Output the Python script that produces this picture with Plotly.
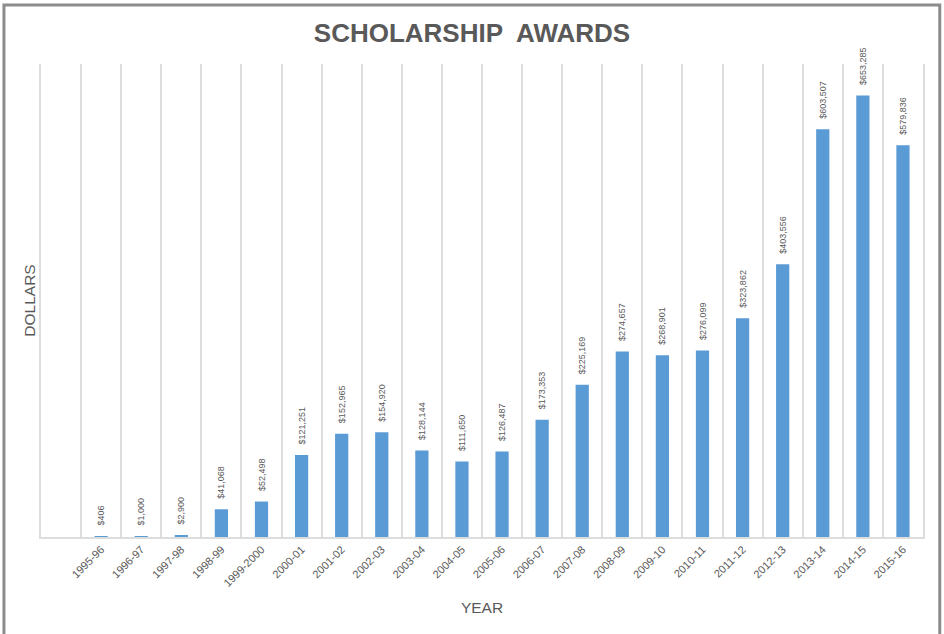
import plotly.graph_objects as go

years = ["1995-96", "1996-97", "1997-98", "1998-99", "1999-2000", "2000-01", "2001-02",
         "2002-03", "2003-04", "2004-05", "2005-06", "2006-07", "2007-08", "2008-09",
         "2009-10", "2010-11", "2011-12", "2012-13", "2013-14", "2014-15", "2015-16"]
awards = [406, 1000, 2900, 41068, 52498, 121251, 152965, 154920, 128144, 111650, 126487,
          173353, 225169, 274657, 268901, 276099, 323862, 403556, 603507, 653285, 579836]

GRAY = "#595959"
GRID = "#DDDDDD"
FONT = "Liberation Sans, Arial, sans-serif"

fig = go.Figure()
fig.add_trace(go.Bar(
    x=years, y=awards,
    marker=dict(color="#5B9BD5", line=dict(width=0)),
    texttemplate="\u00a0\u00a0\u00a0$%{y:,}",
    textposition="outside",
    textangle=-90,
    constraintext="none",
    textfont=dict(size=9, color=GRAY, family=FONT),
    cliponaxis=False,
    hoverinfo="x+y",
))

fig.update_layout(
    width=944, height=634,
    margin=dict(l=41, r=21, t=64, b=97),
    paper_bgcolor="white", plot_bgcolor="white",
    bargap=0.67,
    showlegend=False,
    font=dict(family=FONT, color=GRAY),
    title=dict(text="SCHOLARSHIP  AWARDS", x=0.5, xanchor="center", y=0.948, yanchor="middle",
               font=dict(size=26, color=GRAY, family=FONT, weight="bold")),
    xaxis=dict(
        type="category", categoryorder="array", categoryarray=[" "] + years,
        range=[-0.5, len(years) + 0.5],
        tickson="boundaries", ticks="",
        showgrid=True, gridcolor=GRID, gridwidth=1.5,
        showline=True, linecolor=GRID, linewidth=1.5,
        zeroline=False, automargin=False,
        tickangle=-45, tickfont=dict(size=11, color=GRAY, family=FONT),
        title=dict(text="YEAR", font=dict(size=15.5, color=GRAY, family=FONT), standoff=14),
    ),
    yaxis=dict(
        range=[0, 700000],
        showgrid=False, showticklabels=False, zeroline=False,
        showline=True, linecolor=GRID, linewidth=1.5, mirror=True, ticks="",
        automargin=False,
        title=dict(text="DOLLARS", font=dict(size=15.5, color=GRAY, family=FONT), standoff=0),
    ),
    shapes=[dict(type="rect", xref="paper", yref="paper",
                 x0=-0.042, x1=1.019, y0=-0.25, y1=1.125,
                 line=dict(color="#8C8C8C", width=3), fillcolor="rgba(0,0,0,0)", layer="above")],
)

fig.write_html("out.html", config={"displayModeBar": False},
               post_script="document.body.style.margin='0';")
